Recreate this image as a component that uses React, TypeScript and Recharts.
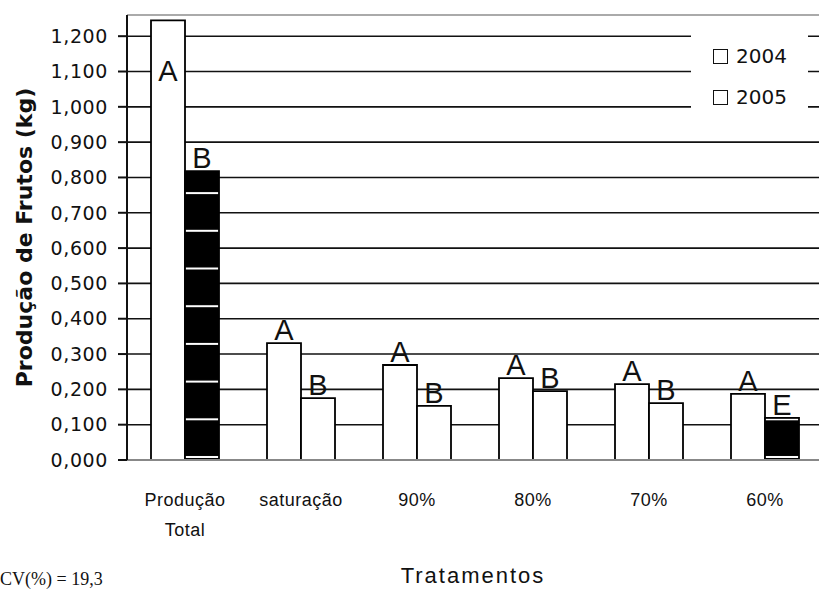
import React from 'react';
import {
  BarChart, Bar, XAxis, YAxis, CartesianGrid, Cell, LabelList, ReferenceLine
} from 'recharts';

// Tratamentos e produção média de frutos (kg)
const tratamentos = ['Produção Total', 'saturação', '90%', '80%', '70%', '60%'];
const producao2004 = [1.245, 0.331, 0.269, 0.232, 0.215, 0.187];
const producao2005 = [0.818, 0.175, 0.153, 0.195, 0.161, 0.119];
const letras2004 = ['A', 'A', 'A', 'A', 'A', 'A'];
const letras2005 = ['B', 'B', 'B', 'B', 'B', 'E'];
const series = ['2004', '2005'];
const yTicks = [0, 0.1, 0.2, 0.3, 0.4, 0.5, 0.6, 0.7, 0.8, 0.9, 1.0, 1.1, 1.2];

const data = tratamentos.map((name, i) => ({
  name,
  y2004: producao2004[i],
  y2005: producao2005[i],
  l2004: letras2004[i],
  l2005: letras2005[i],
}));

const darkBars = new Set(['Produção Total', '60%']);

const sans = '"DejaVu Sans", Verdana, sans-serif';
const arial = '"Liberation Sans", Arial, sans-serif';

const fmt = (v: number) => v.toFixed(3).replace('.', ',');

const letterLabel = (props: any) => {
  const { x, y, width, value } = props;
  const cx = Number(x) + Number(width) / 2;
  // letter goes inside the bar when there is no room above it
  const baseline = Number(y) < 40 ? Number(y) + 61 : Number(y) - 3;
  return (
    <text x={cx} y={baseline} textAnchor="middle" fontFamily={arial} fontSize={29} fill="#111">
      {value}
    </text>
  );
};

const CategoryTick = (props: any) => {
  const { x, y, payload } = props;
  const words = String(payload.value).split(' ');
  return (
    <g>
      {words.map((w, i) => (
        <text
          key={w}
          x={x}
          y={y + 44 + i * 30}
          textAnchor="middle"
          fontFamily={arial}
          fontSize={18}
          letterSpacing={0.5}
          fill="#111"
        >
          {w}
        </text>
      ))}
    </g>
  );
};

const LegendBox = () => (
  <div style={{ position: 'absolute', left: 691, top: 27, background: '#fff', width: 117, height: 86 }}>
    {series.map((s, i) => (
      <div key={s} style={{ position: 'absolute', left: 22, top: 19 + i * 41, display: 'flex', alignItems: 'center' }}>
        <span style={{ width: 13, height: 13, border: '1.5px solid #111', background: '#fff', display: 'inline-block' }} />
        <span style={{ fontFamily: sans, fontSize: 20, marginLeft: 8, color: '#111', lineHeight: '20px' }}>{s}</span>
      </div>
    ))}
  </div>
);

export default function App() {
  return (
    <div style={{ position: 'absolute', left: 0, top: 0, width: 819, height: 591, overflow: 'hidden', background: '#fff' }}>
      <BarChart
        width={830}
        height={591}
        data={data}
        margin={{ top: 15, right: 7, left: 0, bottom: 0 }}
        barCategoryGap={24}
        barGap={0}
      >
        <defs>
          <pattern id="darkFill" patternUnits="userSpaceOnUse" width={8} height={37.7} y={5.6}>
            <rect x={0} y={0} width={8} height={37.7} fill="#000" />
            <rect x={0} y={35.7} width={8} height={2} fill="#fff" />
          </pattern>
        </defs>
        <CartesianGrid
          vertical={false}
          horizontalValues={yTicks.slice(1)}
          stroke="#111"
          strokeWidth={1.6}
        />
        <ReferenceLine y={1.26} stroke="#aaa" strokeWidth={2} />
        <XAxis
          dataKey="name"
          height={131}
          axisLine={{ stroke: '#888', strokeWidth: 2 }}
          tickLine={false}
          tickSize={0}
          tick={<CategoryTick />}
          interval={0}
          label={{
            content: (p: any) => {
              const vb = p.viewBox || {};
              return (
                <text x={vb.x + vb.width / 2 - 2} y={583} textAnchor="middle" fontFamily={arial} fontSize={22} letterSpacing={2} fill="#111">
                  Tratamentos
                </text>
              );
            },
          }}
        />
        <YAxis
          width={127}
          domain={[0, 1.26]}
          ticks={yTicks}
          interval={0}
          tickFormatter={fmt}
          axisLine={{ stroke: '#111', strokeWidth: 2 }}
          tickLine={{ stroke: '#111', strokeWidth: 2 }}
          tickSize={9}
          tickMargin={10}
          tick={{ fontFamily: sans, fontSize: 19, letterSpacing: 0.6, fill: '#111' }}
          label={{
            content: (p: any) => {
              const vb = p.viewBox || {};
              const cy = vb.y + vb.height / 2;
              return (
                <text x={32} y={cy} transform={`rotate(-90 32 ${cy})`} textAnchor="middle" fontFamily={sans} fontWeight="bold" fontSize={22} fill="#111">
                  Produção de Frutos (kg)
                </text>
              );
            },
          }}
        />
        <Bar dataKey="y2004" name="2004" fill="#fff" stroke="#000" strokeWidth={1.8} isAnimationActive={false}>
          <LabelList dataKey="l2004" content={letterLabel} />
        </Bar>
        <Bar dataKey="y2005" name="2005" fill="#fff" stroke="#000" strokeWidth={1.8} isAnimationActive={false}>
          {data.map((d) => (
            <Cell key={d.name} fill={darkBars.has(d.name) ? 'url(#darkFill)' : '#fff'} />
          ))}
          <LabelList dataKey="l2005" content={letterLabel} />
        </Bar>
      </BarChart>
      <LegendBox />
      <div style={{ position: 'absolute', left: 0, top: 569, fontFamily: '"Liberation Serif", "Times New Roman", serif', fontSize: 18, color: '#111', whiteSpace: 'nowrap' }}>
        CV(%) = 19,3
      </div>
    </div>
  );
}
